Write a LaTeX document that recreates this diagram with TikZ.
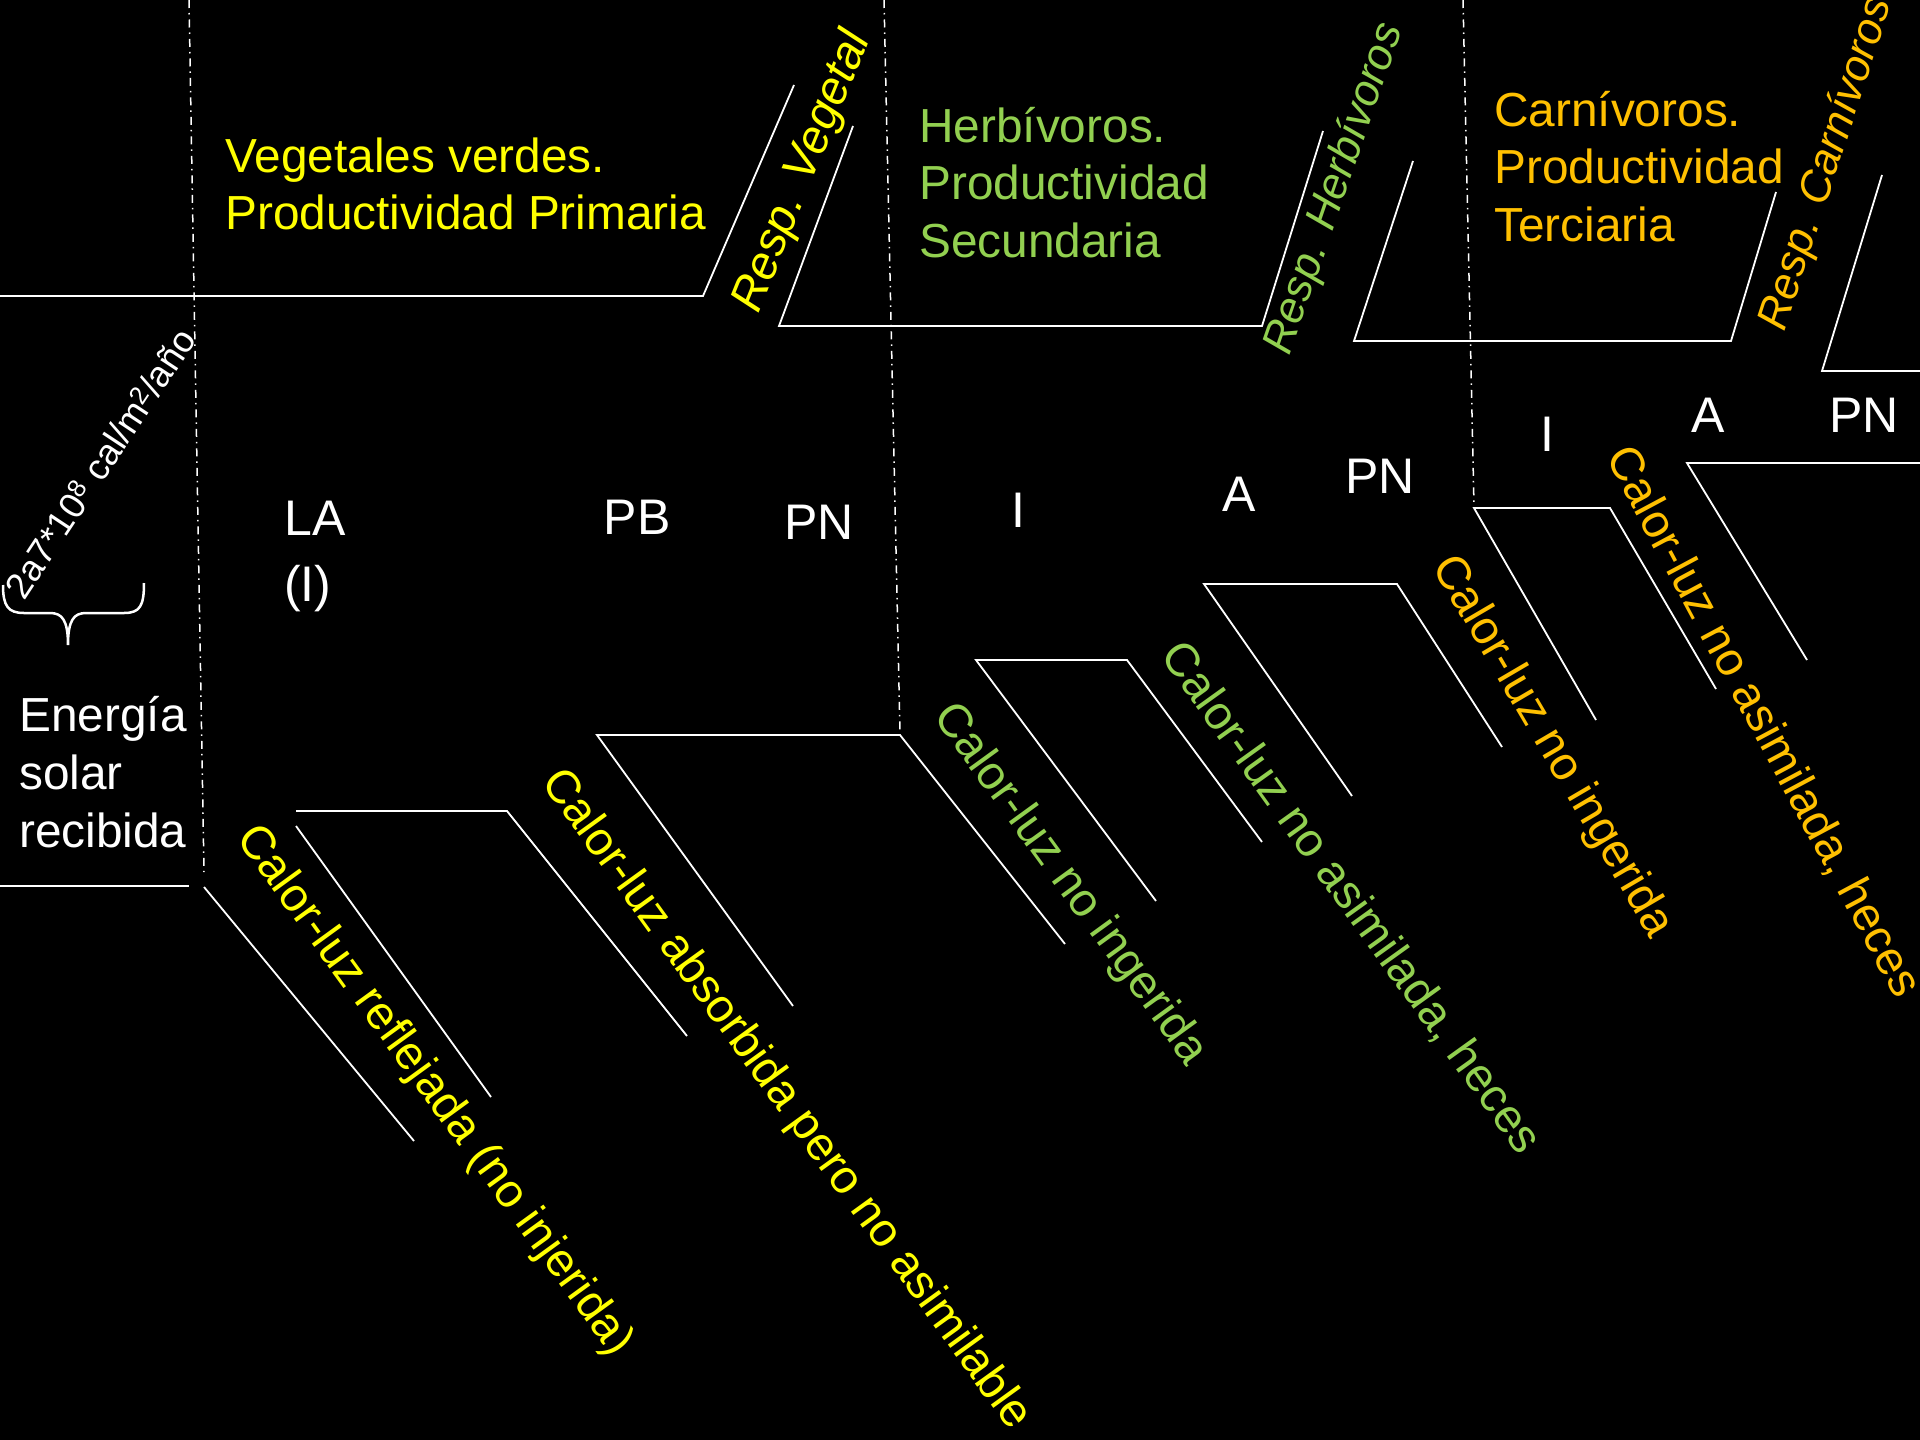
\documentclass[tikz,border=0pt]{standalone}
\usepackage{fontspec}
\setmainfont{Liberation Sans}
\definecolor{cgreen}{HTML}{92D050}
\definecolor{cyellow}{HTML}{FFFF00}
\definecolor{corange}{HTML}{FFC000}
\begin{document}
\begin{tikzpicture}[x=1pt,y=-1pt,
  ln/.style={draw=white, line width=1.8pt},
  dd/.style={draw=white, line width=1.5pt, dash pattern=on 8pt off 5pt on 1.5pt off 5pt},
  big/.style={font=\fontsize{47.8}{57.5}\selectfont, inner sep=0pt, anchor=base west},
  lab/.style={font=\fontsize{50}{65}\selectfont, inner sep=0pt, text=white, anchor=base},
  rot/.style={font=\fontsize{47}{56}\selectfont, inner sep=0pt},
  resp/.style={font=\itshape\fontsize{47}{56}\selectfont, inner sep=0pt},
  resps/.style={font=\itshape\fontsize{44}{52}\selectfont, inner sep=0pt}
]
\fill[black] (0,0) rectangle (1920,1440);
\useasboundingbox (0,0) rectangle (1920,1440);

% top polylines
\draw[ln] (0,296) -- (703,296) -- (794,85);
\draw[ln] (853,126) -- (779,326) -- (1262,326) -- (1323,131);
\draw[ln] (1413,161) -- (1354,341) -- (1731,341) -- (1776,192);
\draw[ln] (1882,175) -- (1822,371) -- (1920,371);

% bottom polylines
\draw[ln] (0,886) -- (189,886);
\draw[ln] (204,887) -- (414,1141);
\draw[ln] (296,826) -- (491,1097);
\draw[ln] (296,811) -- (507,811) -- (687,1036);
\draw[ln] (793,1006) -- (597,735) -- (900,735) -- (1065,944);
\draw[ln] (1156,901) -- (976,660) -- (1127,660) -- (1262,842);
\draw[ln] (1352,796) -- (1204,584) -- (1397,584) -- (1502,747);
\draw[ln] (1596,720) -- (1474,508) -- (1610,508) -- (1716,689);
\draw[ln] (1807,660) -- (1687,463) -- (1920,463);

% dash-dot separators
\draw[dd] (189,0) -- (204,872);
\draw[dd] (884,0) -- (900,733);
\draw[dd] (1463,0) -- (1474,506);

% brace
\draw[white, line width=2.5pt] (3,585) .. controls (3,606) and (8,613) .. (24,613) -- (50,613) .. controls (62,613) and (68,620) .. (68,645) .. controls (68,620) and (74,613) .. (86,613) -- (124,613) .. controls (140,613) and (144,606) .. (144,583);

% titles
\node[big, text=cyellow] (veg1) at (225,172) {Vegetales verdes.};
\node[big, text=cyellow] (veg2) at (225,229.5) {Productividad Primaria};
\node[big, text=cgreen] (her1) at (919,142) {Herbívoros.};
\node[big, text=cgreen] (her2) at (919,199.5) {Productividad};
\node[big, text=cgreen] (her3) at (919,257) {Secundaria};
\node[big, text=corange] (car1) at (1494,126) {Carnívoros.};
\node[big, text=corange] (car2) at (1494,183.5) {Productividad};
\node[big, text=corange] (car3) at (1494,241) {Terciaria};
\node[big, text=white] (sol1) at (19,731) {Energía};
\node[big, text=white] (sol2) at (19,789) {solar};
\node[big, text=white] (sol3) at (19,847) {recibida};

% labels
\node[lab, anchor=base west] (la1) at (284,535) {LA};
\node[lab, anchor=base west] (la2) at (284,601) {(I)};
\node[lab] (pb) at (637,534) {PB};
\node[lab] (pn1) at (819,539) {PN};
\node[lab] (i2) at (1018,527) {I};
\node[lab] (a2) at (1239,511) {A};
\node[lab] (pn2) at (1380,493) {PN};
\node[lab] (i3) at (1547,451) {I};
\node[lab] (a3) at (1708,432) {A};
\node[lab] (pn3) at (1864,432) {PN};

% rotated texts
\node[resp, text=cyellow, rotate=68] (rv) at (803,172) {Resp. Vegetal};
\node[resps, text=cgreen, rotate=71] (rh) at (1335,189) {Resp. Herbívoros};
\node[resps, text=corange, rotate=72] (rc) at (1827,164) {Resp. Carnívoros};
\node[font=\fontsize{36.5}{42}\selectfont, text=white, rotate=56.5, inner sep=0pt] (en) at (100,463) {2a7*10\textsuperscript{8} cal/m\textsuperscript{2}/año};

\node[rot, text=cyellow, rotate=-54] (r1) at (434,1091) {Calor-luz reflejada (no injerida)};
\node[rot, text=cyellow, rotate=-54.1] (r2) at (785.5,1100) {Calor-luz absorbida pero no asimilable};
\node[rot, text=cgreen, rotate=-54] (r3) at (1069.6,884.7) {Calor-luz no ingerida};
\node[rot, text=cgreen, rotate=-54.3] (r4) at (1350.6,898) {Calor-luz no asimilada, heces};
\node[rot, text=corange, rotate=-59.6] (r5) at (1552,747) {Calor-luz no ingerida};
\node[rot, text=corange, rotate=-61.8] (r6) at (1763,722) {Calor-luz no asimilada, heces};
\end{tikzpicture}
\end{document}
